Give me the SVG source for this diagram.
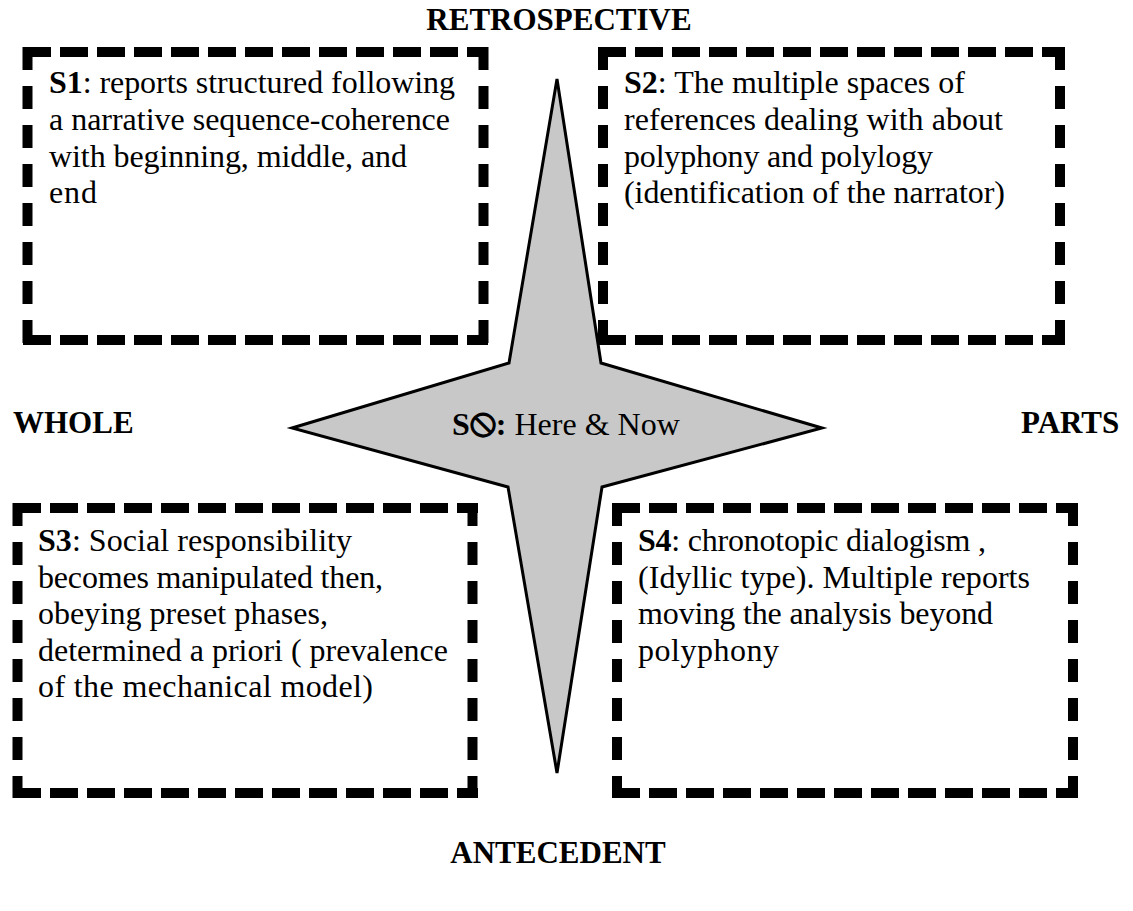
<svg xmlns="http://www.w3.org/2000/svg" width="1133" height="911" viewBox="0 0 1133 911">
<style>
  .bg { fill: #ffffff; }
  .lbl { font-family: "Liberation Serif", "Times New Roman", serif; font-size: 31px; font-weight: bold; fill: #000; }
  .txt { font-family: "Liberation Serif", "Times New Roman", serif; font-size: 32px; fill: #000; }
  .b { font-weight: bold; }
  .sym { font-family: "DejaVu Sans", sans-serif; font-weight: bold; font-size: 40px; }
  .edge { fill: none; stroke: #000; stroke-width: 10; }
  .h { stroke-dasharray: 28 9; }
  .v { stroke-dasharray: 23 16; }
  .star { fill: #c8c8c8; stroke: #000; stroke-width: 3; stroke-linejoin: miter; }
</style>
<rect class="bg" x="0" y="0" width="1133" height="911"/>

<g id="axis-labels">
  <text class="lbl" x="559" y="30" text-anchor="middle">RETROSPECTIVE</text>
  <text class="lbl" x="558" y="863" text-anchor="middle">ANTECEDENT</text>
  <text class="lbl" x="13" y="433">WHOLE</text>
  <text class="lbl" x="1021" y="433">PARTS</text>
</g>

<g id="s1">
  <path class="edge h" d="M23 52 H488 M23 340 H488"/>
  <path class="edge v" d="M27.5 47 V345 M483.5 47 V345"/>
  <text class="txt" x="49" y="93" textLength="406" lengthAdjust="spacing"><tspan class="b">S1</tspan>: reports structured following</text>
  <text class="txt" x="49" y="130" textLength="401" lengthAdjust="spacing">a narrative sequence-coherence</text>
  <text class="txt" x="49" y="167" textLength="358" lengthAdjust="spacing">with beginning, middle, and</text>
  <text class="txt" x="49" y="203" textLength="48" lengthAdjust="spacing">end</text>
</g>

<g id="s2">
  <path class="edge h" d="M598 52 H1065 M598 340 H1065"/>
  <path class="edge v" d="M603 47 V345 M1060 47 V345"/>
  <text class="txt" x="624" y="93" textLength="341" lengthAdjust="spacing"><tspan class="b">S2</tspan>: The multiple spaces of</text>
  <text class="txt" x="624" y="130" textLength="379" lengthAdjust="spacing">references dealing with about</text>
  <text class="txt" x="624" y="167" textLength="309" lengthAdjust="spacing">polyphony and polylogy</text>
  <text class="txt" x="624" y="203" textLength="381" lengthAdjust="spacing">(identification of the narrator)</text>
</g>

<g id="s3">
  <path class="edge h" d="M13 508 H478 M13 793 H478"/>
  <path class="edge v" d="M17.5 503 V798 M472.5 503 V798"/>
  <text class="txt" x="38" y="551" textLength="314" lengthAdjust="spacing"><tspan class="b">S3</tspan>: Social responsibility</text>
  <text class="txt" x="38" y="588" textLength="345" lengthAdjust="spacing">becomes manipulated then,</text>
  <text class="txt" x="38" y="624" textLength="290" lengthAdjust="spacing">obeying preset phases,</text>
  <text class="txt" x="38" y="661" textLength="410" lengthAdjust="spacing">determined a priori ( prevalence</text>
  <text class="txt" x="38" y="697" textLength="335" lengthAdjust="spacing">of the mechanical model)</text>
</g>

<g id="s4">
  <path class="edge h" d="M612 508 H1078 M612 793 H1078"/>
  <path class="edge v" d="M617 503 V798 M1073 503 V798"/>
  <text class="txt" x="638" y="551" textLength="348" lengthAdjust="spacing"><tspan class="b">S4</tspan>: chronotopic dialogism ,</text>
  <text class="txt" x="638" y="588" textLength="392" lengthAdjust="spacing">(Idyllic type). Multiple reports</text>
  <text class="txt" x="638" y="624" textLength="355" lengthAdjust="spacing">moving the analysis beyond</text>
  <text class="txt" x="638" y="661" textLength="141" lengthAdjust="spacing">polyphony</text>
</g>

<g id="s0">
  <polygon class="star" points="557,79 601,363 822,428 602,487 557,773 508,487 292,428 509,363"/>
  <text class="txt" x="452" y="435"><tspan class="b">S</tspan><tspan class="sym">⦸</tspan><tspan class="b">:</tspan> Here &amp; Now</text>
</g>

<g id="connectors"></g>
</svg>
